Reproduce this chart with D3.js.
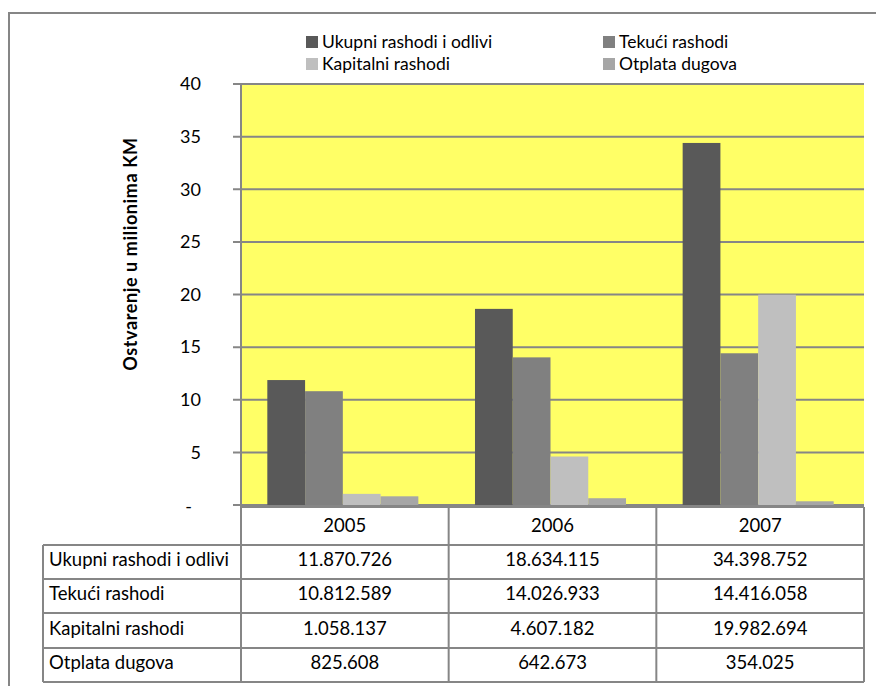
<!DOCTYPE html>
<html>
<head>
<meta charset="utf-8">
<script src="https://cdn.jsdelivr.net/npm/d3@7"></script>
<style>
  body { margin: 0; background: #fff; }
  svg text { font-family: Lato, "Open Sans", sans-serif; fill: #000; }
</style>
</head>
<body>
<div id="chart"></div>
<script>
// data
const years = ['2005', '2006', '2007'];
const seriesNames = ['Ukupni rashodi i odlivi', 'Tekući rashodi', 'Kapitalni rashodi', 'Otplata dugova'];
const ukupni = [11870726, 18634115, 34398752];
const tekuci = [10812589, 14026933, 14416058];
const kapitalni = [1058137, 4607182, 19982694];
const otplata = [825608, 642673, 354025];
const yTicks = [0, 5, 10, 15, 20, 25, 30, 35, 40];
const colors = ['#595959', '#808080', '#bfbfbf', '#a6a6a6'];

const series = [ukupni, tekuci, kapitalni, otplata];

const W = 876, H = 686;
const plot = { left: 241, right: 864, top: 84, bottom: 505 };
const gridColor = '#868686';
const tableFont = '18.5px';

const svg = d3.select('#chart').append('svg')
    .attr('width', W)
    .attr('height', H);

// outer chart frame (runs off the picture right/bottom)
svg.append('rect')
    .attr('x', 9).attr('y', 13)
    .attr('width', W + 20).attr('height', H + 20)
    .attr('fill', 'none')
    .attr('stroke', gridColor)
    .attr('stroke-width', 2);

const x0 = d3.scaleBand()
    .domain(years)
    .range([plot.left, plot.right]);

// 4 bars + gap of 1.5 bars per category
const x1 = d3.scaleBand()
    .domain(d3.range(series.length))
    .range([0, x0.bandwidth()])
    .paddingOuter(0.75)
    .paddingInner(0);

const y = d3.scaleLinear()
    .domain([0, 40])
    .range([plot.bottom, plot.top]);

// plot background
svg.append('rect')
    .attr('x', plot.left).attr('y', plot.top)
    .attr('width', plot.right - plot.left)
    .attr('height', plot.bottom - plot.top)
    .attr('fill', '#ffff66');

// gridlines + tick marks
svg.append('g')
    .selectAll('line')
    .data(yTicks)
    .enter().append('line')
    .attr('x1', plot.left - 8)
    .attr('x2', plot.right)
    .attr('y1', d => y(d))
    .attr('y2', d => y(d))
    .attr('stroke', gridColor)
    .attr('stroke-width', 2);

svg.append('g')
    .selectAll('text')
    .data(yTicks)
    .enter().append('text')
    .attr('x', d => d === 0 ? 192 : 201)
    .attr('y', d => y(d) + (d === 0 ? 2 : 0))
    .attr('dy', '0.35em')
    .attr('text-anchor', 'end')
    .style('font-size', '18px')
    .text(d => d === 0 ? '-' : d);

// bars
const groups = svg.append('g')
    .selectAll('g')
    .data(years)
    .enter().append('g')
    .attr('transform', d => 'translate(' + x0(d) + ',0)');

groups.selectAll('rect')
    .data((d, i) => series.map((s, k) => ({ k: k, v: s[i] / 1e6 })))
    .enter().append('rect')
    .attr('x', d => x1(d.k) - 2)
    .attr('width', x1.bandwidth())
    .attr('y', d => y(d.v))
    .attr('height', d => y(0) - y(d.v))
    .attr('fill', d => colors[d.k]);

// y axis line
svg.append('line')
    .attr('x1', plot.left).attr('x2', plot.left)
    .attr('y1', plot.top).attr('y2', 545)
    .attr('stroke', gridColor)
    .attr('stroke-width', 2);

// axis title
svg.append('text')
    .attr('transform', 'translate(137,254) rotate(-90)')
    .attr('text-anchor', 'middle')
    .style('font-size', '18px')
    .style('font-weight', 'bold')
    .style('letter-spacing', '0.6px')
    .text('Ostvarenje u milionima KM');

// legend
const legendPos = [[306, 42], [603, 42], [306, 64], [603, 64]];
const legend = svg.append('g')
    .selectAll('g')
    .data(seriesNames)
    .enter().append('g')
    .attr('transform', (d, i) => 'translate(' + legendPos[i][0] + ',' + legendPos[i][1] + ')');
legend.append('rect')
    .attr('x', 0).attr('y', -6)
    .attr('width', 12).attr('height', 12)
    .attr('fill', (d, i) => colors[i]);
legend.append('text')
    .attr('x', 16)
    .attr('dy', '0.35em')
    .style('font-size', '17.5px')
    .text(d => d);

// data table
const fmt = d3.formatLocale({ decimal: ',', thousands: '.', grouping: [3], currency: ['', ''] }).format(',d');
const rowTops = [545, 579, 613, 648, 682];
const tableLeft = 43;

const tbl = svg.append('g');

// header row (years)
tbl.selectAll('.yr')
    .data(years)
    .enter().append('text')
    .attr('class', 'yr')
    .attr('x', d => x0(d) + x0.bandwidth() / 2)
    .attr('y', 526)
    .attr('dy', '0.35em')
    .attr('text-anchor', 'middle')
    .style('font-size', tableFont)
    .text(d => d);

// horizontal lines
tbl.append('line')
    .attr('x1', plot.left).attr('x2', plot.right)
    .attr('y1', 507).attr('y2', 507)
    .attr('stroke', gridColor).attr('stroke-width', 2);
tbl.selectAll('.hl')
    .data(rowTops)
    .enter().append('line')
    .attr('class', 'hl')
    .attr('x1', tableLeft).attr('x2', plot.right)
    .attr('y1', d => d).attr('y2', d => d)
    .attr('stroke', gridColor).attr('stroke-width', 2);

// vertical lines
tbl.append('line')
    .attr('x1', tableLeft).attr('x2', tableLeft)
    .attr('y1', rowTops[0]).attr('y2', rowTops[4])
    .attr('stroke', gridColor).attr('stroke-width', 2);
tbl.append('line')
    .attr('x1', plot.left).attr('x2', plot.left)
    .attr('y1', 545).attr('y2', rowTops[4])
    .attr('stroke', gridColor).attr('stroke-width', 2);
tbl.selectAll('.vl')
    .data(years)
    .enter().append('line')
    .attr('class', 'vl')
    .attr('x1', d => x0(d) + x0.bandwidth())
    .attr('x2', d => x0(d) + x0.bandwidth())
    .attr('y1', 507).attr('y2', rowTops[4])
    .attr('stroke', gridColor).attr('stroke-width', 2);

// row labels + values
seriesNames.forEach((name, r) => {
    const cy = (rowTops[r] + rowTops[r + 1]) / 2 - 2;
    tbl.append('text')
        .attr('x', 49).attr('y', cy)
        .attr('dy', '0.35em')
        .style('font-size', tableFont)
        .text(name);
    tbl.selectAll('.v' + r)
        .data(series[r])
        .enter().append('text')
        .attr('x', (d, i) => x0(years[i]) + x0.bandwidth() / 2)
        .attr('y', cy)
        .attr('dy', '0.35em')
        .attr('text-anchor', 'middle')
        .style('font-size', tableFont)
        .text(d => fmt(d));
});
</script>
</body>
</html>
